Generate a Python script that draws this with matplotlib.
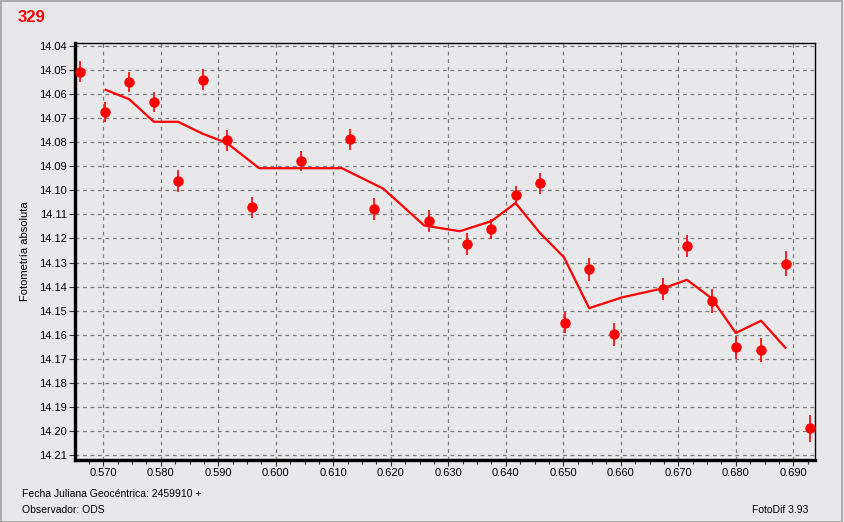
import numpy as np
import matplotlib.pyplot as plt
from matplotlib.ticker import MultipleLocator, FormatStrFormatter

# Observations (JD - 2459910, magnitude, error)
jd = [0.5660, 0.5703, 0.5745, 0.5788, 0.5830, 0.5873, 0.5915, 0.5959,
      0.6043, 0.6129, 0.6171, 0.6266, 0.6332, 0.6374, 0.6417, 0.6459,
      0.6503, 0.6545, 0.6588, 0.6674, 0.6715, 0.6759, 0.6800, 0.6844,
      0.6887, 0.6929]
mag = [14.0507, 14.0674, 14.0549, 14.0633, 14.0961, 14.0540, 14.0792, 14.1070,
       14.0878, 14.0788, 14.1078, 14.1128, 14.1224, 14.1161, 14.1020, 14.0970,
       14.1550, 14.1329, 14.1599, 14.1410, 14.1232, 14.1461, 14.1653, 14.1662,
       14.1306, 14.1990]
err = [0.0044, 0.0042, 0.0043, 0.0043, 0.0044, 0.0043, 0.0043, 0.0043,
       0.0043, 0.0043, 0.0045, 0.0045, 0.0045, 0.0040, 0.0040, 0.0044,
       0.0045, 0.0048, 0.0047, 0.0045, 0.0047, 0.0049, 0.0047, 0.0050,
       0.0052, 0.0058]

# Smoothed curve vertices
curve_jd = [0.5704, 0.5745, 0.5788, 0.5830, 0.5873, 0.5915, 0.5971, 0.6115,
            0.6187, 0.6258, 0.6320, 0.6375, 0.6417, 0.6459, 0.6501, 0.6545,
            0.6602, 0.6674, 0.6715, 0.6758, 0.6800, 0.6844, 0.6886]
curve_mag = [14.0582, 14.0621, 14.0715, 14.0715, 14.0765, 14.0803, 14.0908, 14.0908,
             14.0993, 14.1146, 14.1170, 14.1128, 14.1053, 14.1176, 14.1278, 14.1490,
             14.1445, 14.1407, 14.1372, 14.1449, 14.1593, 14.1542, 14.1654]

bg = '#e8e8ea'
plt.rcParams['font.family'] = ['Liberation Sans', 'DejaVu Sans']

fig = plt.figure(figsize=(8.44, 5.22), dpi=100, facecolor=bg)
ax = fig.add_axes([75 / 844, 62 / 522, 740 / 844, 417 / 522])
ax.set_facecolor(bg)

ax.plot(curve_jd, curve_mag, color='#ff0000', linewidth=1.6, zorder=3)
ax.errorbar(jd, mag, yerr=err, fmt='o', color='#ff0000', markersize=6.5,
            elinewidth=1.2, capsize=0, zorder=4)

ax.set_xlim(0.56508, 0.69377)
ax.set_ylim(14.2121, 14.03875)
ax.xaxis.set_major_locator(MultipleLocator(0.01))
ax.xaxis.set_minor_locator(MultipleLocator(0.0025))
ax.xaxis.set_major_formatter(FormatStrFormatter('%.3f'))
ax.yaxis.set_major_locator(MultipleLocator(0.01))
ax.yaxis.set_major_formatter(FormatStrFormatter('%.2f'))

ax.grid(True, which='major', color='#7a7a7a', linestyle=(0, (3, 3)), linewidth=0.9)
ax.tick_params(axis='both', which='major', labelsize=8, length=4, width=0.8,
               color='#303030', labelcolor='#000000')
ax.tick_params(axis='x', which='minor', length=3, width=0.8, color='#303030')
ax.tick_params(axis='x', pad=2)
ax.tick_params(axis='y', pad=2)

for side in ['top', 'right']:
    ax.spines[side].set_linewidth(1.0)
for side in ['left', 'bottom']:
    ax.spines[side].set_linewidth(2.4)

ax.set_ylabel('Fotometría absoluta', fontsize=8, labelpad=6)

fig.text(18 / 844, 1 - 18 / 522, '329', color='#ff0000', fontsize=12,
         fontweight='bold', va='center', ha='left')
fig.text(22 / 844, 1 - 494 / 522, 'Fecha Juliana Geocéntrica: 2459910 +',
         fontsize=7.5, va='center', ha='left')
fig.text(22 / 844, 1 - 510 / 522, 'Observador: ODS', fontsize=7.5,
         va='center', ha='left')
fig.text(808 / 844, 1 - 510 / 522, 'FotoDif 3.93', fontsize=7.5,
         va='center', ha='right')

# Window frame
fig.patches.append(plt.Rectangle((0.5 / 844, 0.5 / 522), 1 - 3 / 844, 1 - 1.5 / 522,
                                 transform=fig.transFigure, fill=False,
                                 edgecolor='#a0a0a0', linewidth=1.2))

fig.savefig('out.png', dpi=100, facecolor=bg)
